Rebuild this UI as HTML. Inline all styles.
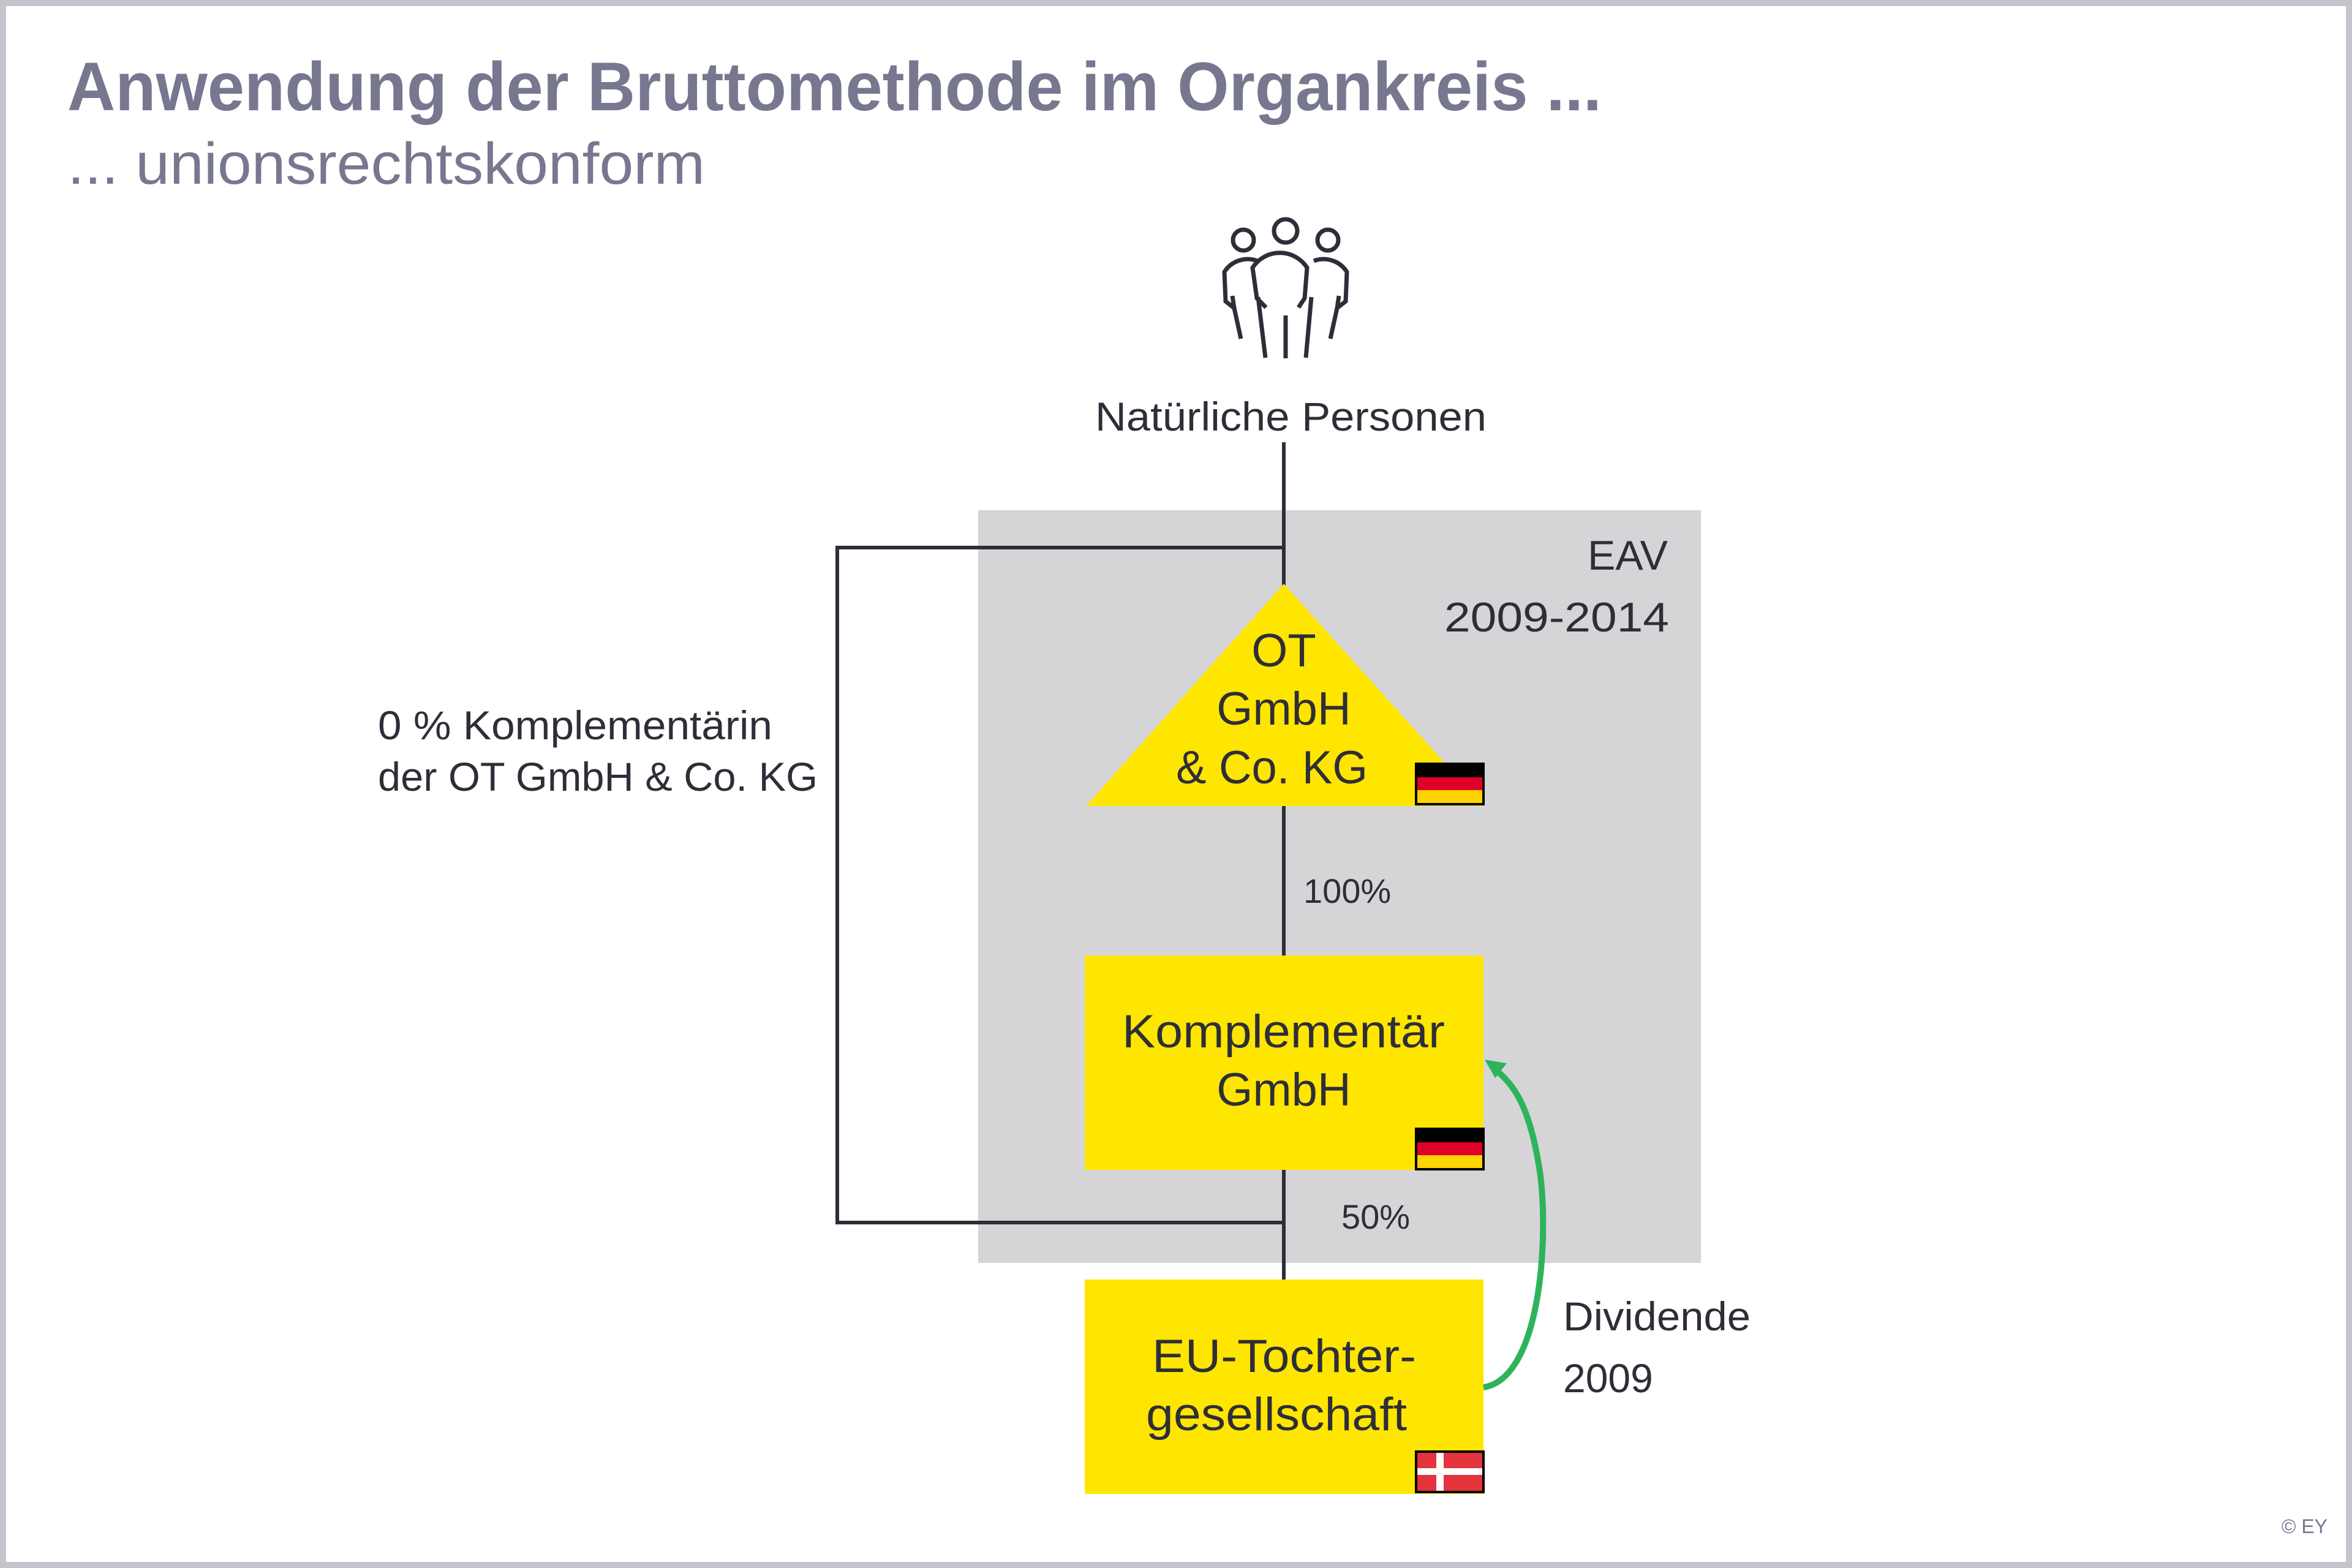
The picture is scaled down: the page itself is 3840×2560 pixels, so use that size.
<!DOCTYPE html>
<html><head><meta charset="utf-8"><style>
html,body{margin:0;padding:0;background:#fff;}
svg{display:block;}
text{font-family:"Liberation Sans",sans-serif;}
</style></head><body>
<svg width="3840" height="2560" viewBox="0 0 3840 2560" xmlns="http://www.w3.org/2000/svg">
<rect x="0" y="0" width="3840" height="2560" fill="#fff"/>
<rect x="5" y="5" width="3830" height="2550" fill="none" stroke="#c4c4cd" stroke-width="10"/>
<text x="110" y="180" font-size="112" font-weight="bold" fill="#777790" textLength="2505" lengthAdjust="spacingAndGlyphs">Anwendung der Bruttomethode im Organkreis ...</text>
<text x="110" y="300" font-size="96" fill="#777790" textLength="1041" lengthAdjust="spacingAndGlyphs">... unionsrechtskonform</text>

<!-- people icon -->
<g fill="none" stroke="#2e2e38" stroke-width="7">
<circle cx="2030" cy="392" r="17"/>
<circle cx="2099" cy="377" r="19"/>
<circle cx="2168" cy="392" r="17"/>
<path d="M2053 426 A45 45 0 0 0 1999 444 L2001 492 L2015 503 L2026 553"/>
<path d="M2012 483 L2015 503"/>
<path d="M2067 502 L2052 487 L2045 437 A53 53 0 0 1 2134 437 L2130 487 L2120 502"/>
<path d="M2066 584 L2054 485 M2132 584 L2141 485 M2099 585 L2099 515"/>
<path d="M2145 426 A45 45 0 0 1 2199 444 L2197 492 L2183 503 L2172 553"/>
<path d="M2186 483 L2183 503"/>
</g>
<text x="1788" y="703" font-size="66" fill="#2e2e38" textLength="639" lengthAdjust="spacingAndGlyphs">Natürliche Personen</text>

<!-- gray EAV -->
<rect x="1597" y="833" width="1180" height="1229" fill="#d5d5d8"/>
<text x="2723" y="930" font-size="68" fill="#2e2e38" text-anchor="end">EAV</text>
<text x="2358" y="1031" font-size="68" fill="#2e2e38" textLength="367" lengthAdjust="spacingAndGlyphs">2009-2014</text>

<!-- lines -->
<g stroke="#2e2e38" stroke-width="6" fill="none">
<line x1="2096" y1="722" x2="2096" y2="2092"/>
<polyline points="2096,894 1367,894 1367,1996 2096,1996"/>
</g>

<!-- triangle -->
<polygon points="2096,953 1773,1316 2422,1316" fill="#ffe600"/>
<text x="2096" y="1088" font-size="76" fill="#2e2e38" text-anchor="middle">OT</text>
<text x="2096" y="1183" font-size="76" fill="#2e2e38" text-anchor="middle">GmbH</text>
<text x="1920" y="1279" font-size="76" fill="#2e2e38" textLength="313" lengthAdjust="spacingAndGlyphs">&amp; Co. KG</text>
<g>
<rect x="2312" y="1247" width="110" height="66" fill="#ffd400" stroke="#000" stroke-width="4"/>
<rect x="2312" y="1247" width="110" height="22" fill="#000"/>
<rect x="2314" y="1269" width="106" height="21" fill="#e10026"/>
</g>
<line x1="2096" y1="1316" x2="2096" y2="1560" stroke="#2e2e38" stroke-width="6"/>

<text x="2128" y="1474" font-size="56" fill="#2e2e38">100%</text>

<!-- Komplementär box -->
<rect x="1771" y="1560" width="651" height="350" fill="#ffe600"/>
<text x="1832" y="1710" font-size="76" fill="#2e2e38" textLength="527" lengthAdjust="spacingAndGlyphs">Komplementär</text>
<text x="2096" y="1805" font-size="76" fill="#2e2e38" text-anchor="middle">GmbH</text>
<rect x="2312" y="1843" width="110" height="66" fill="#ffd400" stroke="#000" stroke-width="4"/>
<rect x="2312" y="1843" width="110" height="22" fill="#000"/>
<rect x="2314" y="1865" width="106" height="21" fill="#e10026"/>

<text x="2190" y="2006" font-size="56" fill="#2e2e38">50%</text>

<!-- EU box -->
<rect x="1771" y="2089" width="651" height="350" fill="#ffe600"/>
<text x="1881" y="2240" font-size="76" fill="#2e2e38" textLength="431" lengthAdjust="spacingAndGlyphs">EU-Tochter-</text>
<text x="1871" y="2335" font-size="76" fill="#2e2e38" textLength="426" lengthAdjust="spacingAndGlyphs">gesellschaft</text>
<rect x="2312" y="2370" width="110" height="66" fill="#e4333c" stroke="#000" stroke-width="4"/>
<rect x="2345" y="2372" width="12" height="62" fill="#fff"/>
<rect x="2314" y="2397" width="106" height="11" fill="#fff"/>

<!-- green arrow -->
<path d="M2422 2265 C2520 2250 2530 2000 2512 1900 C2495 1800 2470 1770 2440 1745" fill="none" stroke="#2db45a" stroke-width="10"/>
<polygon points="2424,1730 2460,1736 2441,1760" fill="#2db45a"/>

<text x="2552" y="2172" font-size="66" fill="#2e2e38" textLength="306" lengthAdjust="spacingAndGlyphs">Dividende</text>
<text x="2552" y="2273" font-size="66" fill="#2e2e38">2009</text>

<text x="617" y="1207" font-size="66" fill="#2e2e38" textLength="644" lengthAdjust="spacingAndGlyphs">0 % Komplementärin</text>
<text x="617" y="1291" font-size="66" fill="#2e2e38" textLength="718" lengthAdjust="spacingAndGlyphs">der OT GmbH &amp; Co. KG</text>

<text x="3800" y="2503" font-size="32" fill="#777790" text-anchor="end">© EY</text>
</svg>
</body></html>
